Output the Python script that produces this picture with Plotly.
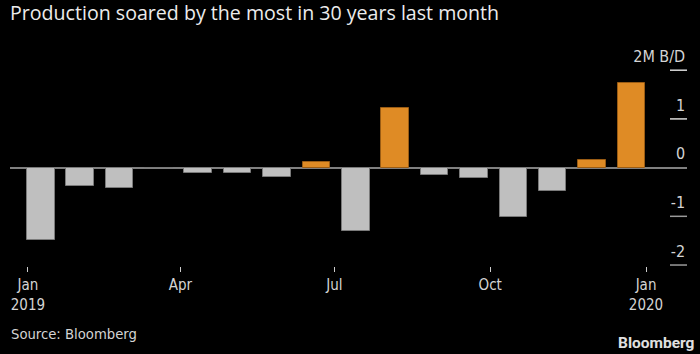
import plotly.graph_objects as go

# Data
bar_index = list(range(16))
values = [-1.49, -0.38, -0.41, 0.0, -0.12, -0.12, -0.20, 0.12,
          -1.31, 1.23, -0.16, -0.22, -1.02, -0.47, 0.16, 1.73]
x_tick_labels = ["Jan<br>2019", "Apr", "Jul", "Oct", "Jan<br>2020"]
x_tick_days = [0, 90, 181, 273, 365]          # days since 2019-01-01
y_tick_values = [-2, -1, 0, 1, 2]
y_tick_labels = ["-2", "-1", "0", "1", "2M B/D"]

ORANGE = "#df8b25"
GRAY = "#bfbfbf"
TEXT = "#d4d4d4"
FONT = "DejaVu Sans Condensed, DejaVu Sans, sans-serif"

X_RANGE = [-0.78, 16.41]
# map tick dates onto the bar index scale
origin, per_day = -0.325, 0.043
x_tick_pos = [origin + d * per_day for d in x_tick_days]

colors = [ORANGE if v > 0 else GRAY for v in values]
line_colors = ["#9a5c14" if v > 0 else "#7a7a7a" for v in values]

fig = go.Figure(go.Bar(
    x=bar_index, y=values, width=0.7,
    marker=dict(color=colors, line=dict(color=line_colors, width=1)),
    hoverinfo="skip",
))

# short right-hand tick marks for the value axis
tick_start = X_RANGE[1] - 17 / 677 * (X_RANGE[1] - X_RANGE[0])
for sign, col in ((1, "#d8d8d8"), (-1, "#9a9a9a")):
    tx, ty = [], []
    for v in y_tick_values:
        if v * sign > 0:
            tx += [tick_start, X_RANGE[1], None]
            ty += [v, v, None]
    fig.add_trace(go.Scatter(x=tx, y=ty, mode="lines", hoverinfo="skip",
                             line=dict(color=col, width=1.5), cliponaxis=False))

fig.update_layout(
    width=700, height=354,
    margin=dict(l=10, r=13, t=40, b=88),
    paper_bgcolor="black", plot_bgcolor="black",
    showlegend=False,
    bargap=0,
    title=dict(text="Production soared by the most in 30 years last month",
               x=10/700, xanchor="left", y=1 - 13/354, yanchor="middle",
               font=dict(family="Open Sans, Noto Sans, sans-serif", size=19.6, color="#ececec")),
    xaxis=dict(range=X_RANGE, tickvals=x_tick_pos, ticktext=x_tick_labels,
               ticks="outside", ticklen=5, tickcolor="#cccccc", tickwidth=1,
               ticklabeloverflow="allow",
               showgrid=False, zeroline=False, showline=False,
               tickfont=dict(family=FONT, size=15, color=TEXT)),
    yaxis=dict(range=[-2.02, 2.62], side="right", tickvals=y_tick_values,
               ticktext=y_tick_labels, ticks="inside", ticklen=17,
               tickcolor="rgba(0,0,0,0)", tickwidth=1,
               ticklabelposition="inside", ticklabelshift=-14,
               ticklabelstandoff=-15, ticklabeloverflow="allow",
               showgrid=False, zeroline=True, zerolinecolor="#808080",
               zerolinewidth=2, showline=False,
               tickfont=dict(family=FONT, size=16, color=TEXT)),
    annotations=[
        dict(text="Source: Bloomberg", xref="paper", yref="paper",
             x=-1/677, y=(266-333)/226, xanchor="left", yanchor="middle",
             showarrow=False, font=dict(family=FONT, size=14.7, color=TEXT)),
        dict(text="<b>Bloomberg</b>", xref="paper", yref="paper",
             x=(696-10)/677, y=(266-343)/226, xanchor="right", yanchor="middle",
             showarrow=False, font=dict(family="Roboto, Liberation Sans, sans-serif",
                                        size=15.5, color="#e0e0e0")),
    ],
)

fig.write_html("out.html")
